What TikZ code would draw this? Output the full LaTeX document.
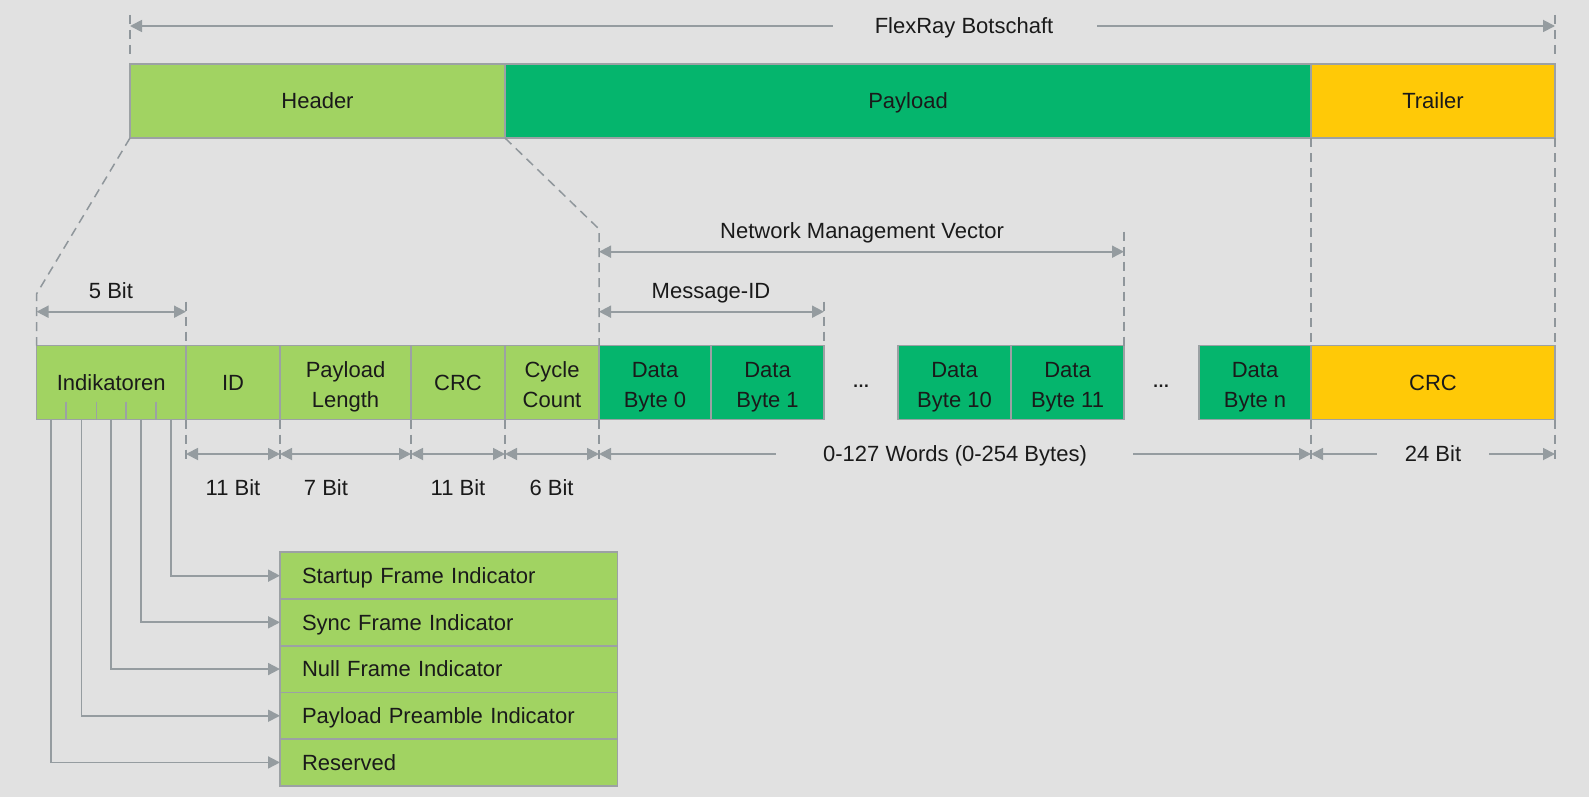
\documentclass[tikz,border=0pt]{standalone}
\usepackage{fontspec}
\setmainfont{Liberation Sans}
\usetikzlibrary{arrows.meta}
\definecolor{bg}{HTML}{E1E1E1}
\definecolor{lgreen}{HTML}{A1D362}
\definecolor{dgreen}{HTML}{05B56D}
\definecolor{yell}{HTML}{FFC907}
\definecolor{bord}{HTML}{9CA1A4}
\definecolor{linec}{HTML}{959CA0}
\definecolor{dashc}{HTML}{8F969B}
\definecolor{txt}{HTML}{1A1A1A}
\begin{document}
\begin{tikzpicture}[x=1pt,y=-1pt,
  font=\fontsize{22}{29}\selectfont,
  cell/.style={draw=bord, line width=1.8pt, minimum height=74pt, inner sep=0pt, outer sep=0pt, anchor=north west, text=txt, text height=15.5pt, text depth=0pt},
  item/.style={draw=bord, line width=1.8pt, fill=lgreen, minimum height=46.7pt, text width=293.5pt, inner xsep=22pt, inner ysep=0pt, outer sep=0pt, anchor=north west, align=left, text=txt, text height=15.5pt, text depth=0pt},
  guide/.style={draw=dashc, line width=1.5pt, dash pattern=on 9pt off 6pt},
  tipA/.tip={Triangle[length=12pt,width=12pt]},
  dimline/.style={draw=linec, line width=1.8pt, tipA-tipA},
  dimleft/.style={draw=linec, line width=1.8pt, tipA-},
  dimright/.style={draw=linec, line width=1.8pt, -tipA},
  feed/.style={draw=linec, line width=1.8pt, -tipA},
  lbl/.style={text=txt, inner sep=0pt, text height=15.5pt, text depth=0pt},
  dots/.style={text=txt, inner sep=0pt, anchor=base, font=\fontsize{17}{17}\selectfont\bfseries}
]
\useasboundingbox (0,0) rectangle (1589,797);
\fill[bg] (0,0) rectangle (1589,797);

% ---------- top row ----------
\node[cell, fill=lgreen, minimum width=375pt] (hdr) at (130,64) {Header};
\node[cell, fill=dgreen, minimum width=806pt] (pay) at (505,64) {Payload};
\node[cell, fill=yell, minimum width=244pt] (trl) at (1311,64) {Trailer};

% ---------- bottom row ----------
\node[cell, fill=lgreen, minimum width=149.5pt] (ind) at (36.5,345.5) {Indikatoren};
\node[cell, fill=lgreen, minimum width=94pt] (id) at (186,345.5) {ID};
\node[cell, fill=lgreen, minimum width=131pt] (pl) at (280,345.5) {};
\node[cell, fill=lgreen, minimum width=94pt] (crc) at (411,345.5) {CRC};
\node[cell, fill=lgreen, minimum width=94pt] (cc) at (505,345.5) {};
\node[cell, fill=dgreen, minimum width=112pt] (db0) at (599,345.5) {};
\node[cell, fill=dgreen, minimum width=113pt] (db1) at (711,345.5) {};
\node[cell, fill=dgreen, minimum width=113pt] (db10) at (898,345.5) {};
\node[cell, fill=dgreen, minimum width=113pt] (db11) at (1011,345.5) {};
\node[cell, fill=dgreen, minimum width=112pt] (dbn) at (1199,345.5) {};
\node[cell, fill=yell, minimum width=244pt] (crc2) at (1311,345.5) {CRC};

\foreach \x/\a/\b/\n in {345.5/Payload/Length/pl, 552/Cycle/Count/cc, 655/Data/Byte 0/db0,
  767.5/Data/Byte 1/db1, 954.5/Data/Byte 10/db10, 1067.5/Data/Byte 11/db11, 1255/Data/Byte n/dbn}{
  \node[lbl] (\n-a) at (\x,370) {\a};
  \node[lbl] (\n-b) at (\x,399.3) {\b};
}
\node[dots] (dotsA) at (861,387) {…};
\node[dots] (dotsB) at (1161,387) {…};

% ticks inside Indikatoren
\foreach \x in {66,96.4,126,156}{\draw[bord, line width=1.5pt] (\x,401.7) -- (\x,419.5);}

% ---------- indicator list ----------
\node[item] (sfi) at (280,552.3) {Startup Frame Indicator};
\node[item] (syn) at (280,599.0) {Sync Frame Indicator};
\node[item] (nfi) at (280,645.7) {Null Frame Indicator};
\node[item] (ppi) at (280,692.4) {Payload Preamble Indicator};
\node[item] (res) at (280,739.1) {Reserved};

\coordinate (b1) at (171,419.5);
\coordinate (b2) at (141,419.5);
\coordinate (b3) at (111,419.5);
\coordinate (b4) at (81.5,419.5);
\coordinate (b5) at (51,419.5);
\draw[feed] (b1) |- (sfi.west);
\draw[feed] (b2) |- (syn.west);
\draw[feed] (b3) |- (nfi.west);
\draw[feed] (b4) |- (ppi.west);
\draw[feed] (b5) |- (res.west);

% ---------- guides (dashed) ----------
\coordinate (tlu) at (130,15);  \coordinate (tld) at (130,55);
\coordinate (tru) at (1555,15); \coordinate (trd) at (1555,55);
\draw[guide] (tlu) -- (tld);
\draw[guide] (tru) -- (trd);
\coordinate (kL) at (36.5,294);
\coordinate (kR) at (599,229);
\draw[guide] (hdr.south west) -- (kL) -- (ind.north west);
\draw[guide] (hdr.south east) -- (kR) -- (db0.north west);
\coordinate (g5) at (186,301.7);
\draw[guide] (g5) -- (id.north west);
\coordinate (gm) at (824,301.7);
\draw[guide] (gm) -- (db1.north east);
\coordinate (gn) at (1124,231.7);
\draw[guide] (gn) -- (db11.north east);
\draw[guide] (trl.south west) -- (crc2.north west);
\draw[guide] (trl.south east) -- (crc2.north east);
\foreach \x/\n in {186/1,280/2,411/3,505/4,599/5,1311/6,1555/7}{
  \coordinate (u\n) at (\x,419.5);
  \coordinate (v\n) at (\x,460);
  \draw[guide] (u\n) -- (v\n);
}

% ---------- dimension lines ----------
\coordinate (tl) at (130,26);  \coordinate (gl) at (833,26);
\coordinate (gr) at (1097,26); \coordinate (tr) at (1555,26);
\draw[dimleft] (tl) -- (gl);
\draw[dimright] (gr) -- (tr);
\node[lbl] (fb) at (964,26) {FlexRay Botschaft};

\coordinate (nv1) at (599,251.7); \coordinate (nv2) at (1124,251.7);
\draw[dimline] (nv1) -- (nv2);
\node[lbl] (nmv) at (862,231) {Network Management Vector};

\coordinate (mi1) at (599,311.7); \coordinate (mi2) at (824,311.7);
\draw[dimline] (mi1) -- (mi2);
\node[lbl] (mid) at (711,291) {Message-ID};

\coordinate (fb1) at (36.5,311.7); \coordinate (fb2) at (186,311.7);
\draw[dimline] (fb1) -- (fb2);
\node[lbl] (fbit) at (111,291) {5 Bit};

\coordinate (d1) at (186,454); \coordinate (d2) at (280,454);
\coordinate (d3) at (411,454); \coordinate (d4) at (505,454);
\coordinate (d5) at (599,454); \coordinate (d6) at (1311,454);
\coordinate (d7) at (1555,454);
\coordinate (pg1) at (776,454); \coordinate (pg2) at (1133,454);
\coordinate (cg1) at (1377,454); \coordinate (cg2) at (1489,454);
\draw[dimline] (d1) -- (d2);
\draw[dimline] (d2) -- (d3);
\draw[dimline] (d3) -- (d4);
\draw[dimline] (d4) -- (d5);
\draw[dimleft] (d5) -- (pg1);
\draw[dimright] (pg2) -- (d6);
\draw[dimleft] (d6) -- (cg1);
\draw[dimright] (cg2) -- (d7);
\node[lbl] (pw) at (955,454) {0-127 Words (0-254 Bytes)};
\node[lbl] (tb) at (1433,454) {24 Bit};

\node[lbl] (l1) at (233,488) {11 Bit};
\node[lbl] (l2) at (326,488) {7 Bit};
\node[lbl] (l3) at (458,488) {11 Bit};
\node[lbl] (l4) at (551.6,488) {6 Bit};
\end{tikzpicture}
\end{document}
